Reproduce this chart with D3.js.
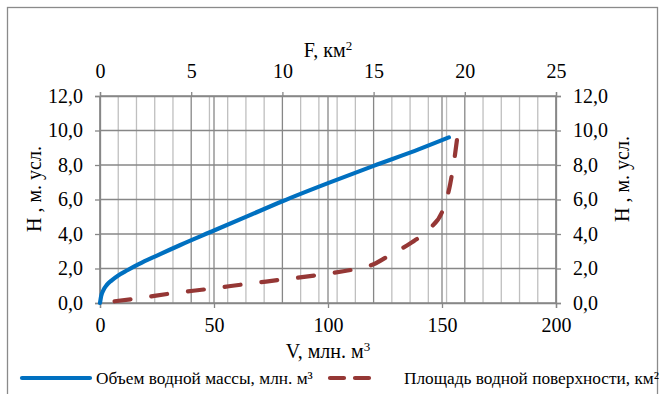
<!DOCTYPE html>
<html><head><meta charset="utf-8">
<script src="https://cdn.jsdelivr.net/npm/d3@7"></script>
<style>
html,body{margin:0;padding:0;background:#fff;}
svg{display:block;}
text{font-family:"Liberation Serif","Times New Roman",serif;fill:#000;}
</style></head>
<body>
<svg id="chart" width="663" height="394"></svg>
<script>
// Data
const vValues = [0, 0.5, 1.5, 3, 5, 8, 12, 17, 25, 35, 50, 65, 80, 100, 120, 140, 153];
const hVolume = [0, 0.4, 0.75, 1.05, 1.3, 1.6, 1.9, 2.25, 2.75, 3.35, 4.2, 5.05, 5.9, 6.95, 7.95, 8.92, 9.6];
const fValues = [0.8, 2, 4, 6, 8, 10, 12, 14, 15, 16, 17, 18, 18.8, 19.2, 19.45, 19.6];
const hArea   = [0.1, 0.26, 0.57, 0.82, 1.1, 1.36, 1.63, 1.97, 2.25, 2.85, 3.45, 4.25, 5.4, 6.9, 8.5, 9.7];
const vTicks = [0, 50, 100, 150, 200];
const fTicks = [0, 5, 10, 15, 20, 25];
const fMinorTicks = d3.range(0, 26, 1);
const hTicks = [0, 2, 4, 6, 8, 10, 12];
const seriesNames = ["Объем водной массы, млн. м³", "Площадь водной поверхности, км²"];
const seriesColors = ["#0070C0", "#953735"];

const svg = d3.select("#chart");
const L = 100, R = 556, T = 96, B = 303;
const FS = 20;
const x = d3.scaleLinear().domain([0, 200]).range([L, R]);
const xF = d3.scaleLinear().domain([0, 25]).range([L, R]);
const y = d3.scaleLinear().domain([0, 12]).range([B, T]);
const fmt = d => d.toFixed(1).replace(".", ",");

// outer border
svg.append("rect").attr("x", 7.5).attr("y", 7.5).attr("width", 650).attr("height", 420)
  .attr("fill", "none").attr("stroke", "#8a8a8a").attr("stroke-width", 1.3);

// minor top gridlines
svg.append("g").selectAll("line").data(fMinorTicks.filter(d => d % 5 !== 0)).join("line")
  .attr("x1", d => xF(d)).attr("x2", d => xF(d)).attr("y1", T).attr("y2", B)
  .attr("stroke", "#bfbfbf").attr("stroke-width", 1.3);
// major top gridlines
svg.append("g").selectAll("line").data(fTicks).join("line")
  .attr("x1", d => xF(d)).attr("x2", d => xF(d)).attr("y1", T).attr("y2", B)
  .attr("stroke", "#878787").attr("stroke-width", 1.3);
// major bottom gridlines
svg.append("g").selectAll("line").data(vTicks).join("line")
  .attr("x1", d => x(d)).attr("x2", d => x(d)).attr("y1", T).attr("y2", B)
  .attr("stroke", "#878787").attr("stroke-width", 1.3);
// horizontal gridlines
svg.append("g").selectAll("line").data(hTicks).join("line")
  .attr("x1", L).attr("x2", R).attr("y1", d => y(d)).attr("y2", d => y(d))
  .attr("stroke", "#878787").attr("stroke-width", 1.3);

// axes
function styleAxis(g) {
  g.select(".domain").attr("stroke", "#878787").attr("stroke-width", 1.3);
  g.selectAll(".tick line").attr("stroke", "#878787").attr("stroke-width", 1.3);
  g.selectAll("text").attr("font-size", FS).attr("font-family", "Liberation Serif").attr("fill", "#000");
}
svg.append("g").attr("transform", `translate(0,${B})`)
  .call(d3.axisBottom(x).tickValues(vTicks).tickSizeOuter(0).tickSize(5).tickPadding(10))
  .call(styleAxis);
svg.append("g").attr("transform", `translate(0,${T})`)
  .call(d3.axisTop(xF).tickValues(fTicks).tickSizeOuter(0).tickSize(4).tickPadding(14))
  .call(styleAxis);
svg.append("g").attr("transform", `translate(${L},0)`)
  .call(d3.axisLeft(y).tickValues(hTicks).tickFormat(fmt).tickSizeOuter(0).tickSize(5).tickPadding(12))
  .call(styleAxis);
svg.append("g").attr("transform", `translate(${R},0)`)
  .call(d3.axisRight(y).tickValues(hTicks).tickFormat(fmt).tickSizeOuter(0).tickSize(5).tickPadding(12))
  .call(styleAxis);

// series
const volData = vValues.map((v, i) => [v, hVolume[i]]);
const areaData = fValues.map((f, i) => [f, hArea[i]]);
svg.append("path").datum(areaData)
  .attr("d", d3.line().x(d => xF(d[0])).y(d => y(d[1])).curve(d3.curveMonotoneX))
  .attr("fill", "none").attr("stroke", seriesColors[1]).attr("stroke-width", 4.2)
  .attr("stroke-dasharray", "16,21").attr("stroke-linecap", "round");
svg.append("path").datum(volData)
  .attr("d", d3.line().x(d => x(d[0])).y(d => y(d[1])).curve(d3.curveMonotoneX))
  .attr("fill", "none").attr("stroke", seriesColors[0]).attr("stroke-width", 4.2)
  .attr("stroke-linecap", "round");

// axis titles
const tTop = svg.append("text").attr("x", 328).attr("y", 57).attr("text-anchor", "middle").attr("font-size", FS);
tTop.append("tspan").text("F, км");
tTop.append("tspan").attr("font-size", 13).attr("dy", -7).text("2");
const tBot = svg.append("text").attr("x", 328).attr("y", 358).attr("text-anchor", "middle").attr("font-size", FS);
tBot.append("tspan").text("V, млн. м");
tBot.append("tspan").attr("font-size", 13).attr("dy", -7).text("3");
svg.append("text").attr("transform", "translate(41,189) rotate(-90)").attr("text-anchor", "middle")
  .attr("font-size", FS).text("Н , м. усл.");
svg.append("text").attr("transform", "translate(629,179) rotate(-90)").attr("text-anchor", "middle")
  .attr("font-size", FS).text("Н , м. усл.");

// legend
const ly = 378;
svg.append("line").attr("x1", 22).attr("x2", 90).attr("y1", ly).attr("y2", ly)
  .attr("stroke", seriesColors[0]).attr("stroke-width", 4.2).attr("stroke-linecap", "round");
svg.append("text").attr("x", 96).attr("y", ly + 6).attr("font-size", 17.3).text(seriesNames[0]);
svg.append("line").attr("x1", 330).attr("x2", 369).attr("y1", ly).attr("y2", ly)
  .attr("stroke", seriesColors[1]).attr("stroke-width", 4.2).attr("stroke-linecap", "round")
  .attr("stroke-dasharray", "14,11");
svg.append("text").attr("x", 404).attr("y", ly + 6).attr("font-size", 17.3).text(seriesNames[1]);
</script>
</body></html>
